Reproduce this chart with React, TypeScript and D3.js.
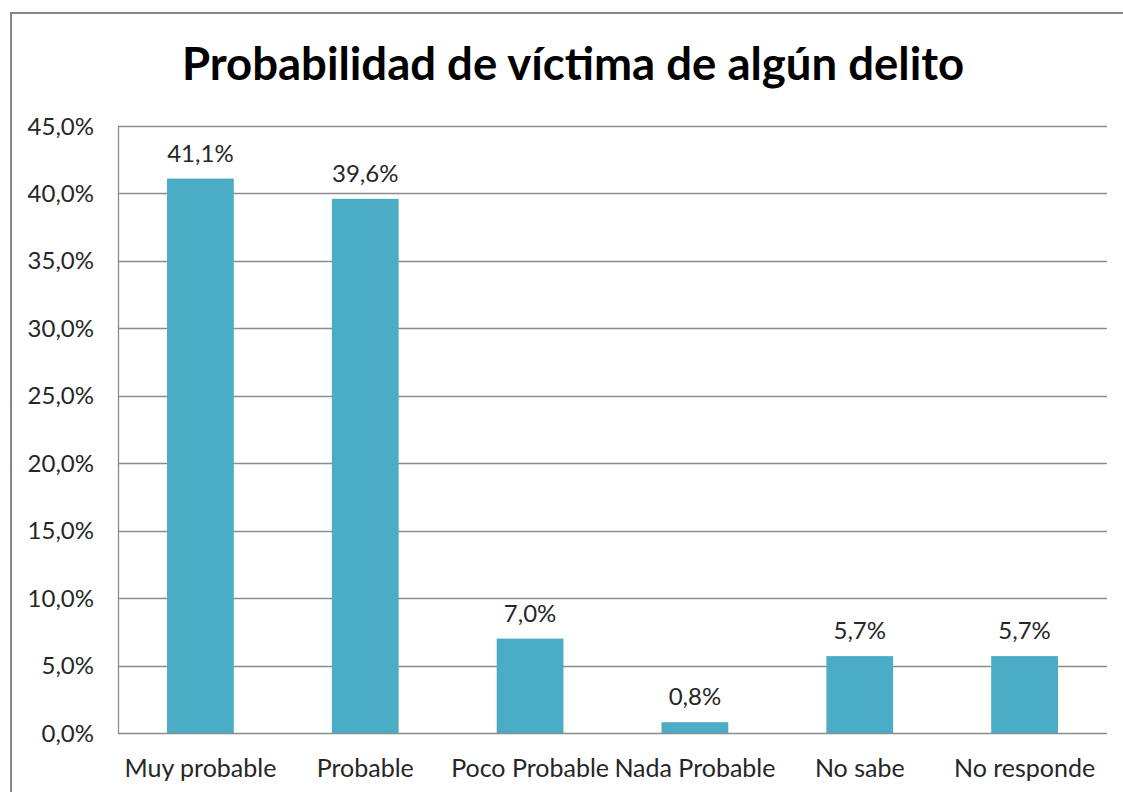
import React from "react";
import * as d3 from "d3";

const categories = ["Muy probable", "Probable", "Poco Probable", "Nada Probable", "No sabe", "No responde"];
const values = [41.1, 39.6, 7.0, 0.8, 5.7, 5.7];
const yTicks = [0, 5, 10, 15, 20, 25, 30, 35, 40, 45];
const title = "Probabilidad de víctima de algún delito";

const fmt = (v: number) => v.toFixed(1).replace(".", ",") + "%";

export default function App() {
  const W = 1123, H = 792;
  const left = 118, right = 1107, top = 126, bottom = 733;
  const x = d3.scaleBand<string>().domain(categories).range([left, right]).paddingInner(0.595).paddingOuter(0.2975);
  const y = d3.scaleLinear().domain([0, 45]).range([bottom, top]);
  const font = "Lato, 'Open Sans', sans-serif";
  return (
    <svg width={W} height={H} style={{ position: "absolute", left: 0, top: 0 }}>
      <rect x={0} y={0} width={W} height={H} fill="#fff" />
      <rect x={11} y={13} width={1130} height={790} fill="none" stroke="#868686" strokeWidth={2} />
      <text x={573} y={80} textAnchor="middle" fontFamily={font} fontWeight="bold" fontSize={45.5} fill="#000">{title}</text>
      {yTicks.map((t) => (
        <g key={t}>
          <line x1={left} x2={right} y1={Math.round(y(t)) + 0.5} y2={Math.round(y(t)) + 0.5} stroke="#8c8c8c" strokeWidth={1.3} />
          <text x={94} y={y(t) + 8.5} textAnchor="end" fontFamily={font} fontSize={24} fill="#262626">{fmt(t)}</text>
        </g>
      ))}
      <line x1={left + 0.5} x2={left + 0.5} y1={top} y2={bottom} stroke="#8c8c8c" strokeWidth={1.3} />
      {categories.map((c, i) => (
        <g key={c}>
          <rect x={x(c)} y={y(values[i])} width={x.bandwidth()} height={bottom - y(values[i])} fill="#4BACC6" />
          <text x={(x(c) as number) + x.bandwidth() / 2} y={y(values[i]) - 17} textAnchor="middle" fontFamily={font} fontSize={24} fill="#262626">{fmt(values[i])}</text>
          <text x={(x(c) as number) + x.bandwidth() / 2} y={777} textAnchor="middle" fontFamily={font} fontSize={25} fill="#262626">{c}</text>
        </g>
      ))}
    </svg>
  );
}
